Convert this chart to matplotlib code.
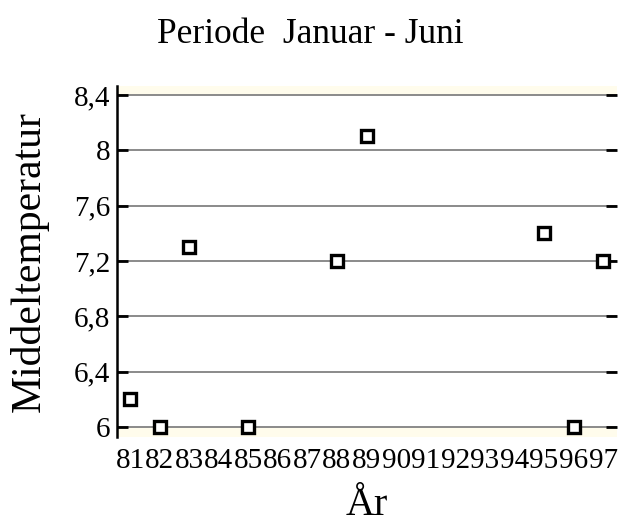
import matplotlib
matplotlib.use("Agg")
import matplotlib.pyplot as plt

# data
years = [81, 82, 83, 85, 88, 89, 95, 96, 97]
temps = [6.2, 6.0, 7.3, 6.0, 7.2, 8.1, 7.4, 6.0, 7.2]
year_ticks = list(range(81, 98))
temp_ticks = [6.0, 6.4, 6.8, 7.2, 7.6, 8.0, 8.4]
temp_labels = ["6", "6,4", "6,8", "7,2", "7,6", "8", "8,4"]

plt.rcParams['font.family'] = ['Liberation Serif', 'DejaVu Serif']

fig = plt.figure(figsize=(6.18, 5.27), dpi=100)
ax = fig.add_axes([117 / 618, 90 / 527, 500 / 618, 351 / 527])

ylo, yhi = 5.928, 8.465
ax.set_ylim(ylo, yhi)
ax.set_xlim(80.56, 97.47)

# faint yellow bands above and below the value range
ax.axhspan(8.4, yhi, color='#fffcec', lw=0, zorder=0)
ax.axhspan(ylo, 6.0, color='#fffcec', lw=0, zorder=0)

for t in temp_ticks:
    ax.axhline(t, color='#8a8a8a', lw=1.4, zorder=1)

ax.plot(years, temps, linestyle='none', marker='s', ms=8, mew=2.4,
        mec='black', mfc='white', zorder=3)

ax.set_yticks(temp_ticks)
ax.set_yticklabels(temp_labels)
ax.set_xticks(year_ticks)
ax.set_xticklabels([str(y) for y in year_ticks])

ax.tick_params(axis='y', direction='in', length=8, width=2, pad=5,
               labelsize=21, right=True, color='black')
ax.tick_params(axis='x', length=0, pad=8, labelsize=21)

for s in ['top', 'right', 'bottom']:
    ax.spines[s].set_visible(False)
ax.spines['left'].set_linewidth(1.8)

ax.set_ylabel('Middeltemperatur', fontsize=30)
ax.yaxis.set_label_coords(-0.136, 0.5)
ax.set_xlabel('År', fontsize=29, va='baseline')
ax.xaxis.set_label_coords(0.5, -0.222)

fig.text(0.5016, 1 - 43 / 527, 'Periode  Januar - Juni', fontsize=25.5,
         ha='center', va='baseline')

fig.savefig('out.png', dpi=100)
